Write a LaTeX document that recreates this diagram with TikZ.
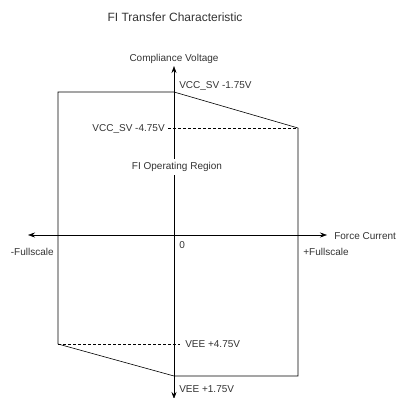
\documentclass[tikz,border=0pt]{standalone}
\usepackage{fontspec}
\setmainfont{Liberation Sans}
\usetikzlibrary{arrows.meta}

\begin{document}
\begin{tikzpicture}
  [x=1pt,y=-1pt,line width=0.6pt,
   axis/.style={-{Stealth[length=7pt,width=5pt]}},
   lbl/.style={font=\fontsize{10}{12}\selectfont,inner sep=1pt,text=black!80},
   guide/.style={dashed,dash pattern=on 3pt off 2pt}]
  \useasboundingbox (0,0) rectangle (396,398);

  % corners of the operating region
  \coordinate (tl) at (58,92);
  \coordinate (tm) at (174,92);
  \coordinate (tr) at (298,128);
  \coordinate (br) at (298,376);
  \coordinate (bm) at (174,376);
  \coordinate (bl) at (58,344);
  \coordinate (ua) at (168,128);
  \coordinate (la) at (180,344);

  % axes
  \coordinate (o) at (174,235);
  \coordinate (ytop) at (174,66);
  \coordinate (ybot) at (174,399);
  \coordinate (xleft) at (28,235);
  \coordinate (xright) at (327,235);
  \draw[axis] (o) -- (ytop);
  \draw[axis] (o) -- (ybot);
  \draw[axis] (o) -- (xleft);
  \draw[axis] (o) -- (xright);

  \draw (tm) -- (tl) -- (bl) -- (bm) -- (br) -- (tr) -- cycle;
  \draw[guide] (ua) -- (tr);
  \draw[guide] (bl) -- (la);

  % labels
  \node[lbl,font=\fontsize{12}{14}\selectfont] (title) at (175,17) {FI Transfer Characteristic};
  \node[lbl] (yname) at (174,59) {Compliance Voltage};
  \node[lbl,anchor=west] (vcc1) at (178,86) {VCC\_SV -1.75V};
  \node[lbl,anchor=east] (vcc4) at (166,129) {VCC\_SV -4.75V};
  \node[lbl,fill=white,inner sep=3pt] (region) at (177,167) {FI Operating Region};
  \node[lbl,anchor=west] (zero) at (178,245) {0};
  \node[lbl,anchor=east] (nfs) at (55,252) {-Fullscale};
  \node[lbl,anchor=west] (pfs) at (302,252) {+Fullscale};
  \node[lbl,anchor=west] (xname) at (333,236) {Force Current};
  \node[lbl,anchor=west] (vee4) at (184,344) {VEE +4.75V};
  \node[lbl,anchor=west] (vee1) at (178,389) {VEE +1.75V};
\end{tikzpicture}
\end{document}
